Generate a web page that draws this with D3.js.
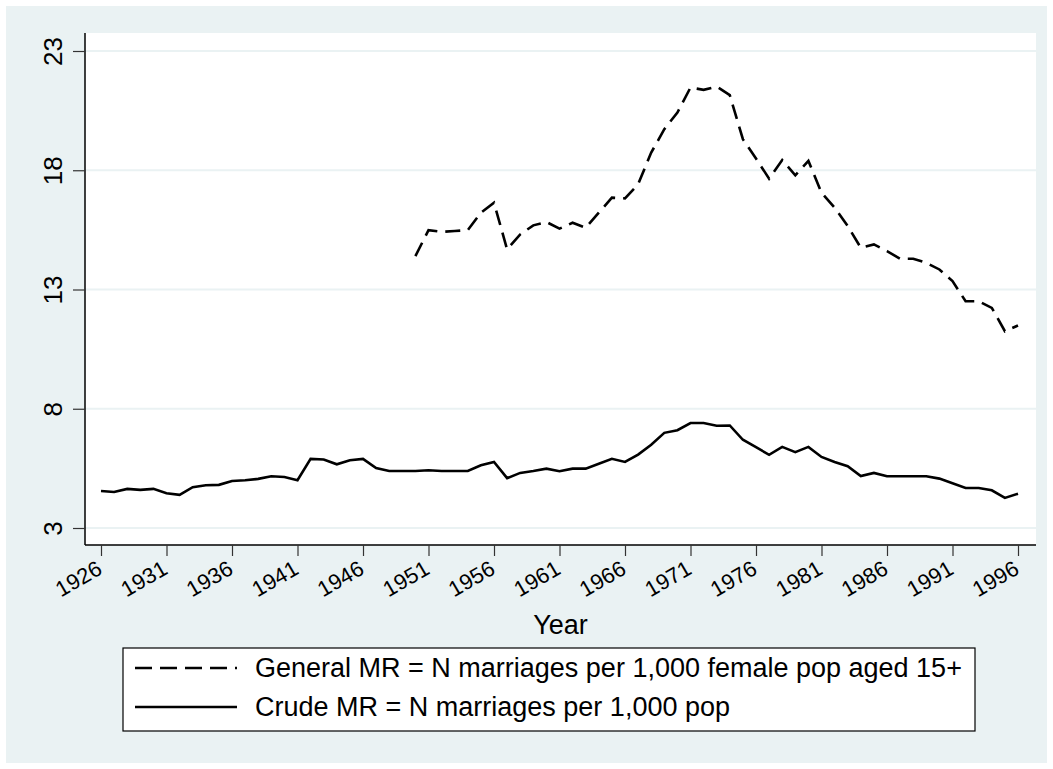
<!DOCTYPE html>
<html><head><meta charset="utf-8">
<script src="https://cdn.jsdelivr.net/npm/d3@7"></script>
<style>body{margin:0;background:#fff;} text{font-family:Arial,"Liberation Sans",sans-serif;}</style>
</head><body>
<svg id="c" width="1053" height="769"></svg>
<script>
const years = d3.range(1926, 1997);
const crudeMR = [4.55,4.51,4.64,4.60,4.64,4.46,4.39,4.71,4.79,4.81,
  4.97,5.00,5.06,5.17,5.14,5.00,5.90,5.87,5.67,5.84,
  5.90,5.51,5.39,5.39,5.39,5.42,5.39,5.39,5.39,5.63,
  5.77,5.09,5.31,5.39,5.49,5.38,5.49,5.49,5.69,5.90,
  5.77,6.08,6.49,6.99,7.10,7.40,7.40,7.29,7.30,6.70,
  6.39,6.07,6.40,6.18,6.40,5.98,5.77,5.59,5.18,5.31,
  5.17,5.17,5.17,5.17,5.07,4.88,4.68,4.68,4.58,4.26,4.44];
const generalYears = d3.range(1950, 1997);
const generalMR = [14.40,15.49,15.42,15.45,15.49,16.22,16.64,14.68,15.31,15.69,
  15.83,15.55,15.80,15.59,16.22,16.85,16.82,17.41,18.74,19.72,
  20.42,21.47,21.37,21.51,21.15,19.30,18.49,17.65,18.43,17.79,
  18.39,17.06,16.43,15.66,14.75,14.89,14.61,14.29,14.29,14.12,
  13.84,13.35,12.51,12.51,12.23,11.25,11.49];
const yTicks = [3,8,13,18,23];
const xTicks = d3.range(1926, 1997, 5);
const legendLabels = ["General MR = N marriages per 1,000 female pop aged 15+","Crude MR = N marriages per 1,000 pop"];

const svg = d3.select("#c");
const bg = "#EAF2F3";
svg.append("rect").attr("x",6).attr("y",6).attr("width",1041).attr("height",757).attr("fill",bg);
const L=85,R=1036,T=33,B=545;
svg.append("rect").attr("x",L).attr("y",T).attr("width",R-L).attr("height",B-T).attr("fill","#fff");

const x = d3.scaleLinear().domain([1926,1996]).range([101,1018]);
const y = d3.scaleLinear().domain([3,23]).range([528,51]);

// gridlines
svg.append("g").selectAll("line").data(yTicks).join("line")
  .attr("x1",L).attr("x2",R).attr("y1",d=>y(d)).attr("y2",d=>y(d))
  .attr("stroke",bg).attr("stroke-width",2);

// y axis
const ya = svg.append("g").attr("transform",`translate(${L},0)`)
  .call(d3.axisLeft(y).tickValues(yTicks).tickSize(12).tickSizeOuter(0));
ya.select(".domain").attr("d",`M0,${T}V${B}`).attr("stroke","#000").attr("stroke-width",1.5);
ya.selectAll(".tick line").attr("stroke","#333").attr("stroke-width",1.2);
ya.selectAll(".tick text").attr("font-size",26).attr("fill","#000")
  .attr("x",null).attr("dy",null)
  .attr("text-anchor","middle")
  .attr("transform","translate(-23,0) rotate(-90)");

// x axis
const xa = svg.append("g").attr("transform",`translate(0,${B})`)
  .call(d3.axisBottom(x).tickValues(xTicks).tickFormat(d3.format("d")).tickSize(11).tickSizeOuter(0));
xa.select(".domain").attr("d",`M${L},0H${R}`).attr("stroke","#000").attr("stroke-width",1.5);
xa.selectAll(".tick line").attr("stroke","#333").attr("stroke-width",1.2);
xa.selectAll(".tick text").attr("font-size",22).attr("fill","#000")
  .attr("y",null).attr("dy",null).attr("text-anchor","end")
  .attr("transform","translate(2,28) rotate(-30)");

svg.append("text").attr("x",(L+R)/2).attr("y",634).attr("text-anchor","middle")
  .attr("font-size",27).text("Year");

// lines
const line = d3.line().x(d=>x(d[0])).y(d=>y(d[1]));
svg.append("path").datum(generalYears.map((yr,i)=>[yr,generalMR[i]]))
  .attr("d",line).attr("fill","none").attr("stroke","#000").attr("stroke-width",2.6)
  .attr("stroke-dasharray","15,8");
svg.append("path").datum(years.map((yr,i)=>[yr,crudeMR[i]]))
  .attr("d",line).attr("fill","none").attr("stroke","#000").attr("stroke-width",2.6);

// legend
const lg = svg.append("g");
lg.append("rect").attr("x",123).attr("y",648).attr("width",852).attr("height",83)
  .attr("fill","#fff").attr("stroke","#000").attr("stroke-width",1.2);
const ly = [668,707];
const dashes = ["17,8",null];
legendLabels.forEach((t,i)=>{
  lg.append("line").attr("x1",135).attr("x2",237).attr("y1",ly[i]).attr("y2",ly[i])
    .attr("stroke","#000").attr("stroke-width",2.5).attr("stroke-dasharray",dashes[i]);
  lg.append("text").attr("x",255).attr("y",ly[i]+9).attr("font-size",27).text(t);
});
</script>
</body></html>
